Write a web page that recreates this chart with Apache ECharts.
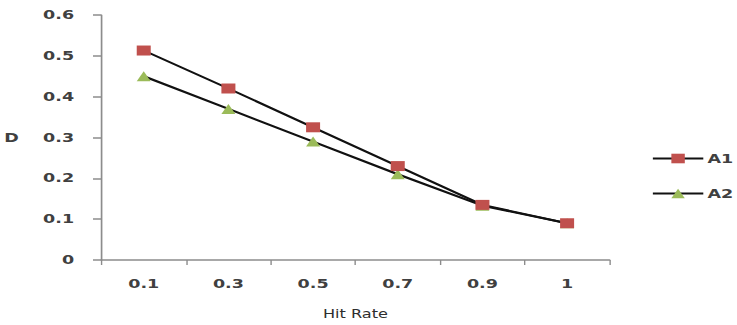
<!DOCTYPE html>
<html>
<head>
<meta charset="utf-8">
<script src="https://cdn.jsdelivr.net/npm/echarts@6/dist/echarts.min.js"></script>
<style>
  html, body { margin: 0; padding: 0; background: #fff; overflow: hidden; }
  /* The chart is laid out on a narrower canvas and widened horizontally */
  #wrap { width: 737px; height: 325px; overflow: hidden; }
  #chart { width: 526px; height: 325px; transform: scaleX(1.401); transform-origin: 0 0; }
</style>
</head>
<body>
<div id="wrap"><div id="chart"></div></div>
<script>
// Hit-rate categories and measured D for the two configurations
const hitRates = ['0.1', '0.3', '0.5', '0.7', '0.9', '1'];
const seriesA1 = [0.513, 0.42, 0.325, 0.23, 0.135, 0.09];
const seriesA2 = [0.45, 0.37, 0.29, 0.21, 0.133, 0.09];
const yTicks = [0, 0.1, 0.2, 0.3, 0.4, 0.5, 0.6];

const font = 'DejaVu Sans';
const textColor = '#404040';
const axisColor = '#8c8c8c';

const chart = echarts.init(document.getElementById('chart'), null, { renderer: 'svg' });
chart.setOption({
  animation: false,
  backgroundColor: '#fff',
  grid: { left: 70, right: 91, top: 15, bottom: 61 },
  legend: {
    orient: 'vertical',
    left: 460,
    top: 147,
    itemGap: 22,
    itemWidth: 36,
    itemHeight: 12,
    textStyle: { fontFamily: font, fontSize: 12.5, fontWeight: 'bold', color: textColor, padding: [0, 0, 0, -2] },
    data: ['A1', 'A2']
  },
  xAxis: {
    type: 'category',
    data: hitRates,
    boundaryGap: true,
    name: 'Hit Rate',
    nameLocation: 'middle',
    nameGap: 48,
    nameTextStyle: { fontFamily: font, fontSize: 11.5, color: '#2e2e2e' },
    axisLine: { lineStyle: { color: axisColor, width: 1.5 } },
    axisTick: { show: true, length: 5, lineStyle: { color: axisColor, width: 1 } },
    axisLabel: { fontFamily: font, fontSize: 12.5, fontWeight: 'bold', color: textColor, margin: 17 },
    splitLine: { show: false }
  },
  yAxis: {
    type: 'value',
    min: yTicks[0],
    max: yTicks[yTicks.length - 1],
    interval: 0.1,
    name: 'D',
    nameLocation: 'middle',
    nameRotate: 0,
    nameGap: 59,
    nameTextStyle: { fontFamily: font, fontSize: 12.5, fontWeight: 'bold', color: textColor },
    axisLine: { show: true, lineStyle: { color: axisColor, width: 1.2 } },
    axisTick: { show: true, length: 6, lineStyle: { color: axisColor, width: 1.5 } },
    axisLabel: {
      fontFamily: font, fontSize: 12.5, fontWeight: 'bold', color: textColor, margin: 19.5,
      formatter: v => String(Math.round(v * 10) / 10)
    },
    splitLine: { show: false }
  },
  series: [
    {
      name: 'A1',
      type: 'line',
      data: seriesA1,
      symbol: 'rect',
      symbolSize: 10,
      itemStyle: { color: '#C0504D' },
      lineStyle: { color: '#111', width: 2 },
      z: 3
    },
    {
      name: 'A2',
      type: 'line',
      data: seriesA2,
      symbol: 'triangle',
      symbolSize: 10,
      itemStyle: { color: '#9BBB59' },
      lineStyle: { color: '#111', width: 2 },
      z: 2
    }
  ]
});
</script>
</body>
</html>
